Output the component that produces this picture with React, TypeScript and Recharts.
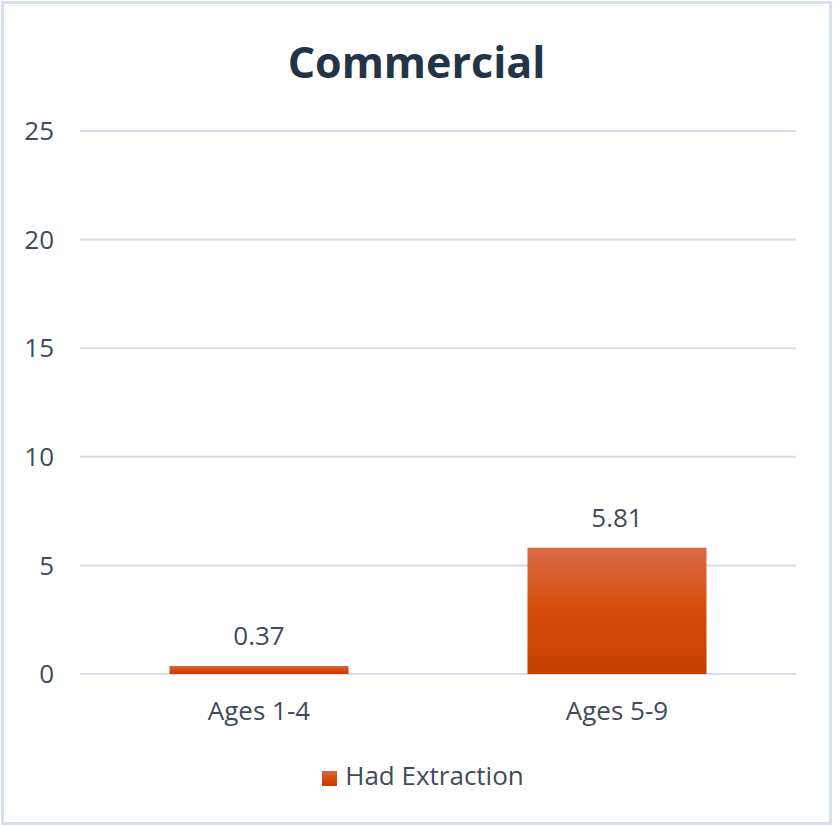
import { Bar, BarChart, CartesianGrid, LabelList, Legend, XAxis, YAxis } from 'recharts'

const categories = ['Ages 1-4', 'Ages 5-9']
const hadExtraction = [0.37, 5.81]
const yTicks = [0, 5, 10, 15, 20, 25]

const data = categories.map((name, i) => ({ name, value: hadExtraction[i] }))

const font = '"Open Sans", "Noto Sans", sans-serif'
const textColor = '#3f4b5b'

export default function App() {
  return (
    <div
      style={{
        position: 'absolute',
        left: 0,
        top: 0,
        width: 833,
        height: 825,
        background: '#fff',
        fontFamily: font,
      }}
    >
      <div
        style={{
          position: 'absolute',
          left: 1,
          top: 1,
          width: 825,
          height: 818,
          border: '3px solid #d7e0ea',
        }}
      />
      <div
        style={{
          position: 'absolute',
          left: 0,
          top: 32,
          width: 833,
          textAlign: 'center',
          fontSize: 43,
          fontWeight: 700,
          color: '#243447',
          lineHeight: '60px',
        }}
      >
        Commercial
      </div>
      <BarChart
        width={833}
        height={825}
        data={data}
        margin={{ top: 131, right: 37, bottom: 41, left: 0 }}
        barCategoryGap="25%"
        style={{ position: 'absolute', left: 0, top: 0 }}
      >
        <defs>
          <linearGradient id="barFill" x1="0" y1="0" x2="0" y2="1">
            <stop offset="0%" stopColor="#d96a45" />
            <stop offset="50%" stopColor="#d64c08" />
            <stop offset="100%" stopColor="#c44000" />
          </linearGradient>
        </defs>
        <CartesianGrid vertical={false} stroke="#d5dee8" strokeWidth={2} />
        <XAxis
          dataKey="name"
          axisLine={false}
          tickLine={false}
          tickMargin={22}
          height={74}
          tick={{ fill: textColor, fontSize: 26, fontFamily: font }}
        />
        <YAxis
          domain={[0, 25]}
          ticks={yTicks}
          axisLine={false}
          tickLine={false}
          tickSize={0}
          tickMargin={26}
          width={80}
          tick={{ fill: textColor, fontSize: 26, fontFamily: font }}
        />
        <Legend
          iconType="square"
          iconSize={15}
          wrapperStyle={{ bottom: 32, left: 30, fontSize: 26, fontFamily: font }}
          formatter={(v) => <span style={{ color: textColor, marginLeft: 4 }}>{v}</span>}
        />
        <Bar dataKey="value" name="Had Extraction" fill="url(#barFill)" legendType="square" isAnimationActive={false}>
          <LabelList dataKey="value" position="top" offset={21} fill={textColor} fontSize={26} fontFamily={font} />
        </Bar>
      </BarChart>
    </div>
  )
}
